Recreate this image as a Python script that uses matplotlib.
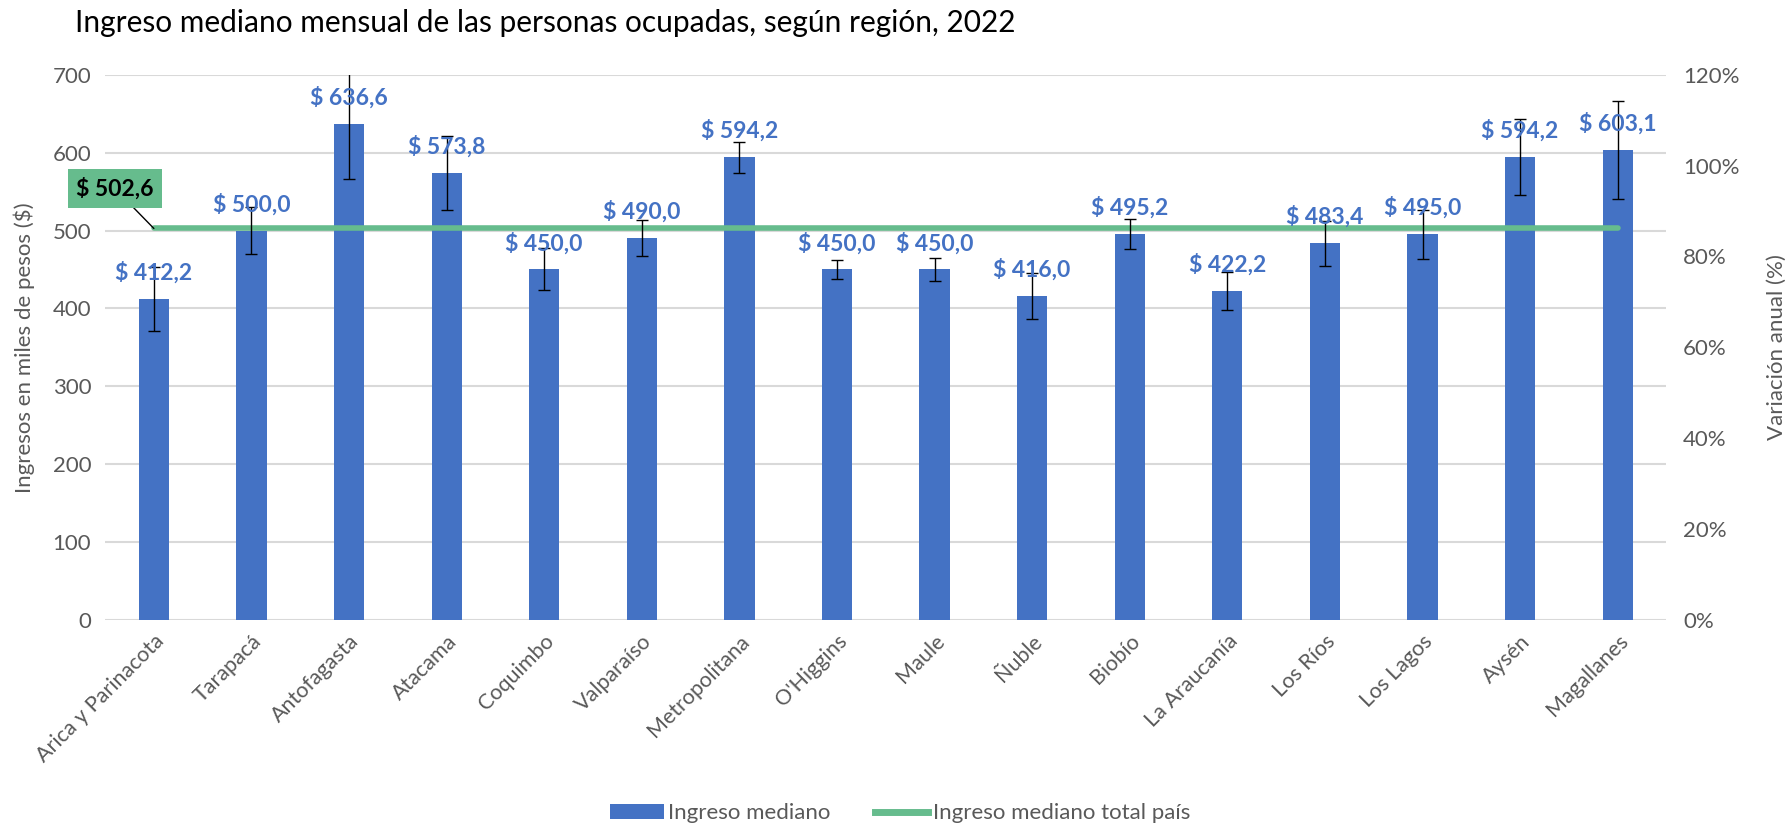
import matplotlib
matplotlib.use("Agg")
import matplotlib.pyplot as plt
from matplotlib.patches import Patch
from matplotlib.lines import Line2D
from matplotlib.ticker import FuncFormatter
import numpy as np

plt.rcParams['font.family'] = ['Lato', 'DejaVu Sans']

regions = ["Arica y Parinacota", "Tarapacá", "Antofagasta", "Atacama", "Coquimbo",
           "Valparaíso", "Metropolitana", "O'Higgins", "Maule", "Ñuble", "Biobío",
           "La Araucanía", "Los Ríos", "Los Lagos", "Aysén", "Magallanes"]
ingreso = [412.2, 500.0, 636.6, 573.8, 450.0, 490.0, 594.2, 450.0, 450.0, 416.0,
           495.2, 422.2, 483.4, 495.0, 594.2, 603.1]
error = [41, 30, 70, 48, 27, 23, 20, 12, 15, 30, 19, 24, 29, 31, 49, 63]
total_pais = 502.6

title = "Ingreso mediano mensual de las personas ocupadas, según región, 2022"
ylabel_left = "Ingresos en miles de pesos ($)"
ylabel_right = "Variación anual (%)"

BLUE = "#4472C4"
GREEN = "#66BC8D"
GRAY = "#595959"
GRID = "#D9D9D9"

def fmt(v):
    return "$ " + f"{v:.1f}".replace(".", ",")

fig = plt.figure(figsize=(17.9, 8.3), dpi=100)
ax = fig.add_axes([0.0587, 0.253, 0.8723, 0.657])
x = np.arange(len(regions))

ax.bar(x, ingreso, width=0.31, color=BLUE, zorder=2)
ax.plot([x[0], x[-1]], [total_pais, total_pais], color=GREEN, lw=4, zorder=3,
        solid_capstyle='round')
ax.errorbar(x, ingreso, yerr=error, fmt='none', ecolor='black', elinewidth=1.0,
            capsize=4.5, capthick=1.0, zorder=4)

for xi, v in zip(x, ingreso):
    ax.annotate(fmt(v), (xi, v), xytext=(0, 19), textcoords='offset points',
                ha='center', va='center', color=BLUE, fontsize=16.5, fontweight='bold',
                zorder=5)

ax.annotate(fmt(total_pais), xy=(x[0], total_pais), xytext=(-0.40, 554),
            textcoords='data', ha='center', va='center', fontsize=16.5,
            fontweight='bold', color='black', zorder=6,
            bbox=dict(boxstyle='square,pad=0.35', fc=GREEN, ec='none'),
            arrowprops=dict(arrowstyle='-', color='black', lw=1.0,
                            shrinkA=0, shrinkB=0))

ax.set_xlim(-0.5, len(regions) - 0.5)
ax.set_ylim(0, 700)
ax.set_yticks(range(0, 701, 100))
ax.grid(axis='y', color=GRID, lw=1.5, zorder=0)
ax.set_axisbelow(True)
for s in ax.spines.values():
    s.set_visible(False)
ax.tick_params(axis='y', length=0, labelsize=16, labelcolor=GRAY, pad=10)
ax.tick_params(axis='x', length=0, labelsize=15.5, labelcolor=GRAY, pad=8)
ax.set_xticks(x)
ax.set_xticklabels(regions, rotation=45, ha='right', rotation_mode='anchor')
ax.set_ylabel(ylabel_left, fontsize=16, color=GRAY)
ax.yaxis.set_label_coords(-0.045, 0.5)

ax2 = ax.twinx()
ax2.set_ylim(0, 1.2)
ax2.set_yticks(np.arange(0, 1.21, 0.2))
ax2.yaxis.set_major_formatter(FuncFormatter(lambda v, p: f"{v*100:.0f}%"))
for s in ax2.spines.values():
    s.set_visible(False)
ax2.tick_params(axis='y', length=0, labelsize=16, labelcolor=GRAY, pad=12)
ax2.set_ylabel(ylabel_right, fontsize=16, color=GRAY)
ax2.yaxis.set_label_coords(1.064, 0.5)

fig.text(0.042, 0.972, title, fontsize=21.5, color='black', ha='left', va='center')

handles = [Patch(facecolor=BLUE, edgecolor='none'),
           Line2D([0], [0], color=GREEN, lw=5)]
fig.legend(handles, ["Ingreso mediano", "Ingreso mediano total país"],
           loc='lower center', bbox_to_anchor=(0.503, -0.016), ncol=2,
           frameon=False, fontsize=16, handlelength=2.4, handleheight=0.7,
           columnspacing=2.0, handletextpad=0.2, labelcolor=GRAY)

fig.savefig("out.png", dpi=100)
